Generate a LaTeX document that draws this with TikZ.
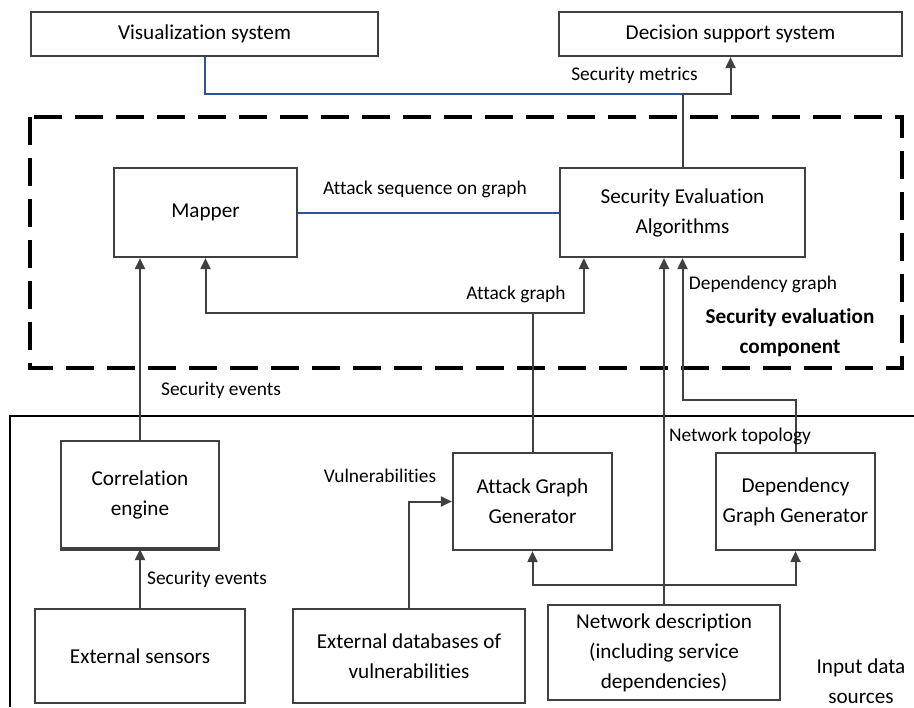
\documentclass[tikz,border=0pt]{standalone}
\usepackage{fontspec}
\setmainfont{Carlito}[Ligatures=CommonOff]
\usepackage{xcolor}
\usetikzlibrary{arrows.meta}

\definecolor{boxgray}{RGB}{64,64,64}
\definecolor{linkblue}{RGB}{47,84,150}
\newcommand{\boxfont}{\fontsize{10.6}{15}\selectfont}
\newcommand{\lblfont}{\fontsize{9.7}{14}\selectfont}

\tikzset{
    box/.style={draw=boxgray, line width=1.1pt, align=center, inner sep=0pt, font=\boxfont},
    conn/.style={draw=boxgray, line width=1pt, -{Triangle[length=5.5pt,width=5pt]}},
    bluelink/.style={draw=linkblue, line width=1pt},
    lbl/.style={font=\lblfont, inner sep=0pt}
}

\begin{document}
\begin{tikzpicture}[x=0.5pt,y=-0.5pt]
    \useasboundingbox (0,0) rectangle (914,707);

    % Top level systems
    \node[box, minimum width=173.5pt, minimum height=22pt] (vis) at (204.5,34) {Visualization system};
    \node[box, minimum width=171.5pt, minimum height=22pt] (dss) at (730.5,34) {Decision support system};

    % Security evaluation component
    \draw[line width=2pt, dash pattern=on 14pt off 6.5pt] (30,117) rectangle (902,368);
    \node[box, minimum width=91.5pt, minimum height=44.5pt] (map) at (205.5,212.5) {Mapper};
    \node[box, minimum width=122.5pt, minimum height=44.5pt] (sea) at (682.5,212.5) {Security Evaluation\\Algorithms};
    \node[font=\boxfont\bfseries, align=center, inner sep=0pt] (secl) at (790,333) {Security evaluation\\component};

    % Input data sources
    \draw[line width=1.2pt] (914,416) -| (10,707);
    \node[box, minimum width=79pt, minimum height=53.5pt] (corr) at (140,494.5) {Correlation\\engine};
    \draw[boxgray, line width=2.2pt] (corr.south west) -- (corr.south east);
    \node[box, minimum width=105pt, minimum height=47pt] (sens) at (140,656) {External sensors};
    \node[box, minimum width=116pt, minimum height=47pt] (edb) at (409,656) {External databases of\\vulnerabilities};
    \node[box, minimum width=79.5pt, minimum height=48.5pt] (agg) at (532.5,501.5) {Attack Graph\\Generator};
    \node[box, minimum width=79.5pt, minimum height=48.5pt] (dgg) at (795.5,501.5) {Dependency\\Graph Generator};
    \node[box, minimum width=116pt, minimum height=47.5pt] (nd) at (664,652.5) {Network description\\(including service\\dependencies)};
    \node[font=\boxfont, align=center, inner sep=0pt] (inl) at (861,681) {Input data\\sources};

    % Junctions
    \coordinate (metj) at (sea.north |- 0,94);
    \coordinate (agj) at (agg.north |- 0,313);
    \coordinate (seaag) at ([xshift=12.5pt]sea.south west);
    \coordinate (ndj) at (nd.north |- 0,585);
    \coordinate (dgj) at (sea.south |- 0,400);

    % Links
    \draw[bluelink] (vis.south) |- (metj);
    \draw[conn] (sea.north) -- (metj) -| (dss.south);
    \draw[bluelink] (map.east) -- (sea.west);
    \draw[conn] (corr.north) -- (corr.north |- map.south);
    \draw[conn] (agg.north) -- (agj) -| (map.south);
    \draw[conn] (agj) -| (seaag);
    \draw[conn] (nd.north) -- (nd.north |- sea.south);
    \draw[conn] (ndj) -| (agg.south);
    \draw[conn] (ndj) -| (dgg.south);
    \draw[conn] (dgg.north) |- (dgj) -- (sea.south);
    \draw[conn] (edb.north) |- (agg.west);
    \draw[conn] (sens.north) -- (corr.south);

    % Link labels
    \node[lbl] (lmet) at (634.5,75) {Security metrics};
    \node[lbl] (lseq) at (425,189) {Attack sequence on graph};
    \node[lbl] (lag) at (516,294) {Attack graph};
    \node[lbl] (ldg) at (763,284) {Dependency graph};
    \node[lbl] (lev1) at (221,390) {Security events};
    \node[lbl] (lev2) at (207,579) {Security events};
    \node[lbl] (lvul) at (380,476) {Vulnerabilities};
    \node[lbl] (ltop) at (740,436) {Network topology};
\end{tikzpicture}
\end{document}
